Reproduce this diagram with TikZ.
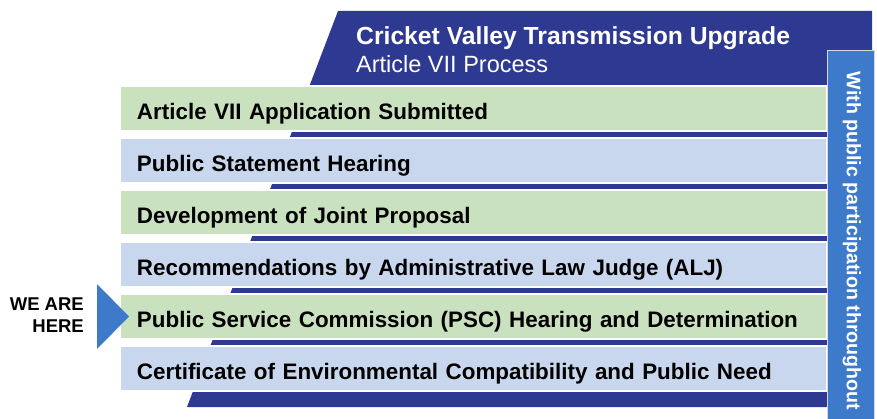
\documentclass[tikz,border=0pt]{standalone}
\usepackage{fontspec}
\setmainfont{Liberation Sans}
\usetikzlibrary{calc}
\usetikzlibrary{matrix}
\definecolor{cvnavy}{RGB}{46,57,145}
\definecolor{cvgreen}{RGB}{202,225,191}
\definecolor{cvblue}{RGB}{200,215,238}
\definecolor{cvside}{RGB}{61,122,201}

\begin{document}
\begin{tikzpicture}[x=1pt,y=-1pt]
	\useasboundingbox (0,0) rectangle (877,419);
	% slanted backing band
	\fill[cvnavy] (338,11) -- (872,11) -- (872,407) -- (187,407) -- cycle;
	\node[anchor=base west,inner sep=0pt,text=white,
		font=\bfseries\fontsize{24.7}{28}\selectfont] (title) at (356,45)
		{Cricket Valley Transmission Upgrade};
	\node[anchor=base west,inner sep=0pt,text=white,
		font=\fontsize{23.5}{26}\selectfont] (subtitle) at (356,72.7)
		{Article VII Process};
	\matrix (m) [
		matrix of nodes,
		anchor=north west,
		inner sep=0pt,
		outer sep=0pt,
		row sep=5.5pt,
		nodes={
			draw=white, % General options for all nodes
			line width=1.5pt,
			anchor=center,
			outer sep=0pt,
			inner xsep=17pt,
			inner ysep=0pt,
			text width=673pt,
			align=left,
			minimum height=45pt,
			text height=21pt,
			text depth=0pt,
			font=\bfseries\fontsize{22.4}{26}\selectfont,
		},
		grn/.style={fill=cvgreen},
		blu/.style={fill=cvblue},
	] at (119.25,85.25)
	{
		|[grn]| Article VII Application Submitted \\
		|[blu]| Public Statement Hearing \\
		|[grn]| Development of Joint Proposal \\
		|[blu]| Recommendations by Administrative Law Judge (ALJ) \\
		|[grn]| Public Service Commission (PSC) Hearing and Determination \\
		|[blu]| Certificate of Environmental Compatibility and Public Need \\
	};
	\node[
		fill=cvside,draw=white!85!black,line width=1pt,
		minimum width=47pt,minimum height=368pt,inner sep=0pt,
	] (side) at (850.5,235) {};
	\node[
		rotate=-90,inner sep=0pt,
		text=white,font=\bfseries\fontsize{19.6}{22}\selectfont,
	] (sidetext) at ($(side.center)+(1.5,6)$) {With public participation throughout};
	% marker in front of the current step
	\fill[cvside] ($(m-5-1.west)+(-23,-32.5)$) -- ($(m-5-1.west)+(9,0)$)
		-- ($(m-5-1.west)+(-23,32.5)$) -- cycle;
	\node[anchor=east,inner sep=0pt,align=right,
		font=\bfseries\fontsize{18.5}{21.7}\selectfont] (here) at (84,315)
		{WE ARE\\HERE};
\end{tikzpicture}
\end{document}
